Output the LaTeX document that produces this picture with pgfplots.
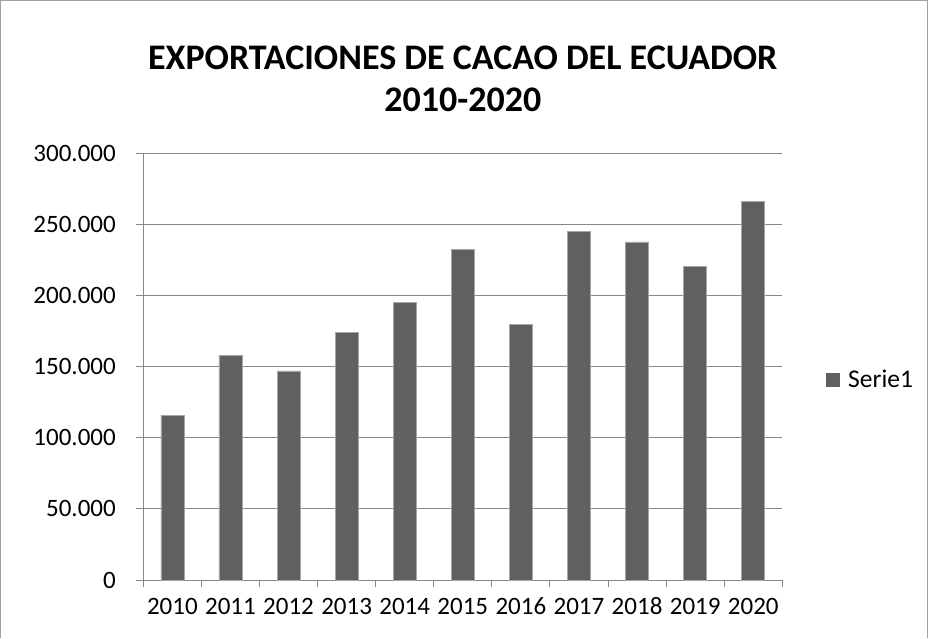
\documentclass[border=0pt]{standalone}
\usepackage{fontspec}
\setmainfont{Carlito}
\usepackage{pgfplots}
\pgfplotsset{compat=1.18}
\definecolor{barc}{HTML}{606060}
\definecolor{gridc}{HTML}{878787}
\definecolor{framec}{HTML}{A0A0A0}
\begin{document}
\begin{tikzpicture}[x=1pt,y=1pt]
\useasboundingbox (0,0) rectangle (928,638);
\draw[framec, line width=1pt] (0.8,0) -- (0.8,637.2) -- (927.2,637.2) -- (927.2,0);
\begin{axis}[
  at={(143.3pt,58pt)}, anchor=south west,
  scale only axis, width=639pt, height=426.7pt,
  ybar, bar width=23pt,
  xmin=-0.5, xmax=10.5, ymin=0, ymax=300000,
  xtick={0,...,10},
  xticklabels={2010,2011,2012,2013,2014,2015,2016,2017,2018,2019,2020},
  minor xtick={-0.5,0.5,...,10.5},
  ytick={0,50000,100000,150000,200000,250000,300000},
  yticklabels={0,50.000,100.000,150.000,200.000,250.000,300.000},
  scaled y ticks=false,
  axis x line*=bottom, axis y line*=left,
  axis line style={gridc, line width=1pt, -},
  tick align=outside, major tick length=7pt, minor tick length=7pt,
  tick style={gridc, line width=1pt},
  major x tick style={draw=none},
  ymajorgrids, grid style={gridc, line width=1pt},
  ticklabel style={font=\fontsize{25}{30}\selectfont, text=black},
  xticklabel style={text height=17pt, text depth=0pt, anchor=north, yshift=-7pt},
  yticklabel style={xshift=-17pt},
  title={EXPORTACIONES DE CACAO DEL ECUADOR\\2010-2020},
  title style={font=\bfseries\fontsize{36}{42}\selectfont, align=center, at={(0.5,1)}, anchor=south, yshift=32pt},
  legend style={draw=none, at={(1,0.469)}, anchor=west, xshift=43.7pt, font=\fontsize{25.5}{30}\selectfont, inner sep=0pt},
  legend image code/.code={\fill[barc, draw=none] (0pt,-7pt) rectangle (14pt,7pt); \path[draw=none, fill=none] (0pt,0pt) -- (20pt,0pt);},
]
\addplot[fill=barc, draw=gray!70, line width=0.6pt] coordinates {
(0,116000) (1,157700) (2,146950) (3,174150) (4,195200) (5,232250)
(6,179750) (7,244900) (8,237650) (9,220550) (10,266000)};
\addlegendentry{Serie1}
\end{axis}
\end{tikzpicture}
\end{document}
